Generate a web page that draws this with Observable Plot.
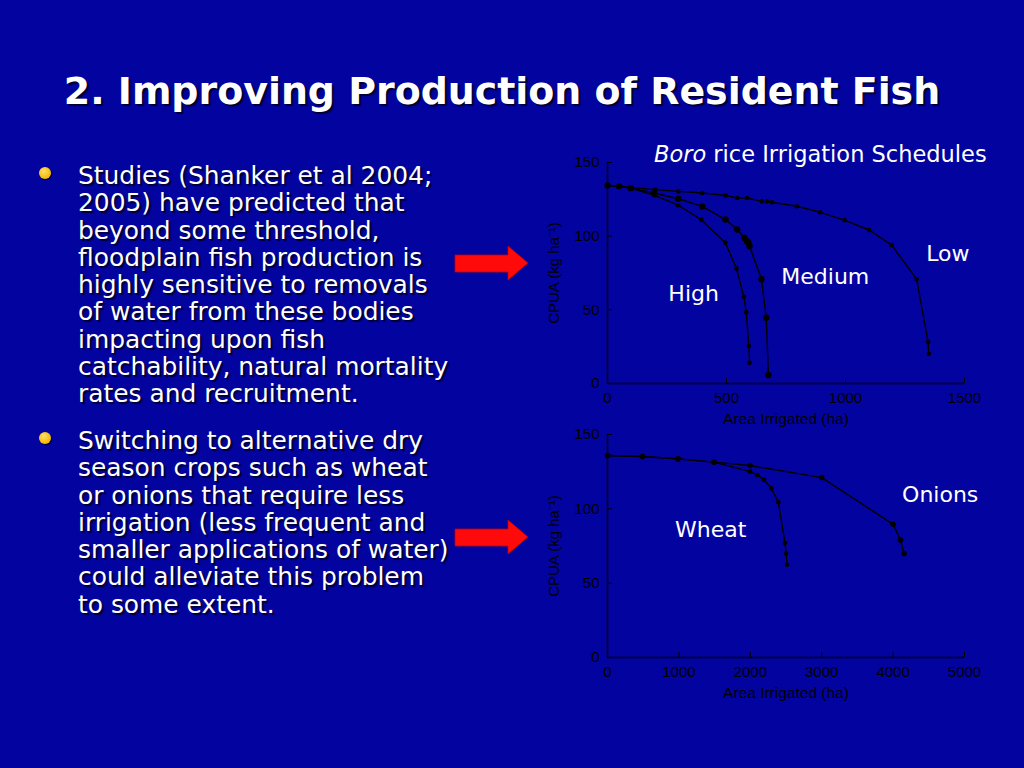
<!DOCTYPE html>
<html>
<head>
<meta charset="utf-8">
<script src="https://cdn.jsdelivr.net/npm/d3@7"></script>
<script src="https://cdn.jsdelivr.net/npm/@observablehq/plot@0.6"></script>
<style>
  html, body { margin: 0; padding: 0; }
  body { width: 1024px; height: 768px; background: #0303a0; overflow: hidden; position: relative;
         font-family: "DejaVu Sans", sans-serif; color: #fff; }
  .abs { position: absolute; }
  .title { left: 0; width: 1004px; top: 69px; text-align: center; font-size: 37.9px; font-weight: bold;
           text-shadow: 2px 2px 1px #000030; white-space: nowrap; }
  .body { left: 78px; font-size: 24.9px; line-height: 27.3px; text-shadow: 2px 2px 1px #000030; white-space: nowrap; }
  .dot { width: 12px; height: 12px; border-radius: 50%; background: radial-gradient(circle at 40% 35%, #ffe066, #f5b800 70%); box-shadow: 1px 1px 1px #000030; }
  .charttitle { left: 654px; top: 141px; font-size: 22.5px; white-space: nowrap; }
  .chart svg { overflow: visible; }
</style>
</head>
<body>
<div class="abs title">2. Improving Production of Resident Fish</div>

<div class="abs dot" style="left:39px; top:167px;"></div>
<div class="abs body" style="top:162px;">Studies (Shanker et al 2004;<br>2005) have predicted that<br>beyond some threshold,<br>floodplain fish production is<br>highly sensitive to removals<br>of water from these bodies<br>impacting upon fish<br>catchability, natural mortality<br>rates and recruitment.</div>

<div class="abs dot" style="left:39px; top:432px;"></div>
<div class="abs body" style="top:427px;">Switching to alternative dry<br>season crops such as wheat<br>or onions that require less<br>irrigation (less frequent and<br>smaller applications of water)<br>could alleviate this problem<br>to some extent.</div>

<svg class="abs" style="left:450px; top:240px;" width="85" height="50">
  <polygon points="5,15 58,15 58,6 78,23 58,40 58,32 5,32" fill="#ff0a0a" stroke="#c00000" stroke-width="0.8"/>
</svg>
<svg class="abs" style="left:450px; top:514px;" width="85" height="50">
  <polygon points="5,15 58,15 58,6 78,23 58,40 58,32 5,32" fill="#ff0a0a" stroke="#c00000" stroke-width="0.8"/>
</svg>

<div class="abs charttitle"><i>Boro</i> rice Irrigation Schedules</div>

<div id="top" class="abs chart" style="left:540px; top:140px;"></div>
<div id="bottom" class="abs chart" style="left:540px; top:420px;"></div>

<script>
// ---- Boro rice irrigation schedules (area irrigated, ha ; CPUA, kg/ha) ----
const lowArea  = [0, 49, 98, 200, 298, 398, 496, 545, 586, 649, 670, 691, 796, 893, 996, 1099, 1194, 1299, 1347, 1350];
const lowCpua  = [134.5, 133.9, 133, 131.6, 130.4, 129.3, 127.6, 125.9, 125.9, 123.6, 123.6, 123, 120.3, 116.2, 110.9, 104.2, 93.9, 70.8, 28.2, 20.2];
const medArea  = [0, 49, 98, 197, 297, 398, 496, 545, 575, 586, 592, 597, 647, 667, 676];
const medCpua  = [134.5, 133.8, 132.6, 129.3, 125.4, 120.2, 111.3, 104.5, 98.9, 96.5, 95.5, 93.2, 70.8, 44.6, 5.8];
const highArea = [0, 49, 98, 197, 297, 394, 495, 542, 573, 583, 594, 597];
const highCpua = [134.5, 133.8, 132.6, 127.7, 121, 111.2, 95.6, 78, 58.9, 48.3, 25.5, 14];

// ---- Alternative dry season crops ----
const wheatArea  = [0, 490, 988, 1492, 1996, 2099, 2192, 2295, 2393, 2486, 2502, 2515];
const wheatCpua  = [135.9, 135.2, 133.6, 131.4, 125, 122.8, 119.5, 113.8, 104.4, 77, 70, 62.4];
const onionArea  = [0, 490, 988, 1492, 1996, 3000, 4000, 4104, 4153];
const onionCpua  = [135.9, 135.2, 133.6, 131.4, 129.1, 121, 89.6, 79, 70];

// series labels (name, label anchor in data units)
const riceLabels = ["Low", "Medium", "High"];
const riceLabelX = [1430, 915, 362];
const riceLabelY = [88, 72, 61];
const cropLabels = ["Onions", "Wheat"];
const cropLabelX = [4660, 1445];
const cropLabelY = [109.5, 86];

// axes
const riceXTicks = [0, 500, 1000, 1500];
const cropXTicks = [0, 1000, 2000, 3000, 4000, 5000];
const yTicks = [0, 50, 100, 150];
const xLabel = "Area Irrigated (ha)";
const yLabel = "CPUA (kg ha\u207B\u00B9)";

const zip = (xs, ys) => xs.map((x, i) => ({x, y: ys[i]}));
const labelRows = (names, xs, ys) => names.map((t, i) => ({t, x: xs[i], y: ys[i]}));

function chart({xDomain, xTicks, series, labels, marginTop, marginBottom}) {
  const marks = [
    Plot.ruleX([0], {stroke: "#000", strokeWidth: 1.5}),
    Plot.ruleY([0], {stroke: "#000", strokeWidth: 1.5}),
    Plot.axisX({ticks: xTicks, tickFormat: d3.format("d"), tickSize: -5, tickPadding: 14, label: null, fill: "#000", stroke: "#000"}),
    Plot.axisX({ticks: [], tickSize: 0, label: xLabel, labelAnchor: "center", labelArrow: "none",
                labelOffset: 40, fill: "#000", dx: -7, fontSize: 15.5}),
    Plot.axisY({ticks: yTicks, tickFormat: d3.format("d"), tickSize: -5, tickPadding: 13, label: yLabel, labelAnchor: "center",
                labelArrow: "none", labelOffset: 59, fill: "#000", stroke: "#000"})
  ];
  for (const s of series) {
    marks.push(Plot.line(s.data, {x: "x", y: "y", stroke: "#000", strokeWidth: 1.4}));
    marks.push(Plot.dot(s.data, {x: "x", y: "y", r: s.r, fill: "#000"}));
  }
  marks.push(Plot.text(labels, {x: "x", y: "y", text: "t", fill: "#fff", fontSize: 22,
    fontFamily: "DejaVu Sans, sans-serif"}));
  return Plot.plot({
    width: 440, height: 300,
    marginLeft: 67, marginRight: 16, marginTop, marginBottom,
    style: {background: "transparent", color: "#000", fontFamily: "Liberation Sans, Arial, sans-serif", fontSize: "15px"},
    x: {domain: xDomain},
    y: {domain: [0, 150]},
    marks
  });
}

document.getElementById("top").append(chart({
  xDomain: [0, 1500], xTicks: riceXTicks, marginTop: 22, marginBottom: 57,
  series: [
    {data: zip(lowArea, lowCpua), r: 2.3},
    {data: zip(medArea, medCpua), r: 3.2},
    {data: zip(highArea, highCpua), r: 2.3}
  ],
  labels: labelRows(riceLabels, riceLabelX, riceLabelY)
}));

document.getElementById("bottom").append(chart({
  xDomain: [0, 5000], xTicks: cropXTicks, marginTop: 14, marginBottom: 63,
  series: [
    {data: zip(wheatArea, wheatCpua), r: 2.3},
    {data: zip(onionArea, onionCpua), r: 2.8}
  ],
  labels: labelRows(cropLabels, cropLabelX, cropLabelY)
}));
</script>
</body>
</html>
